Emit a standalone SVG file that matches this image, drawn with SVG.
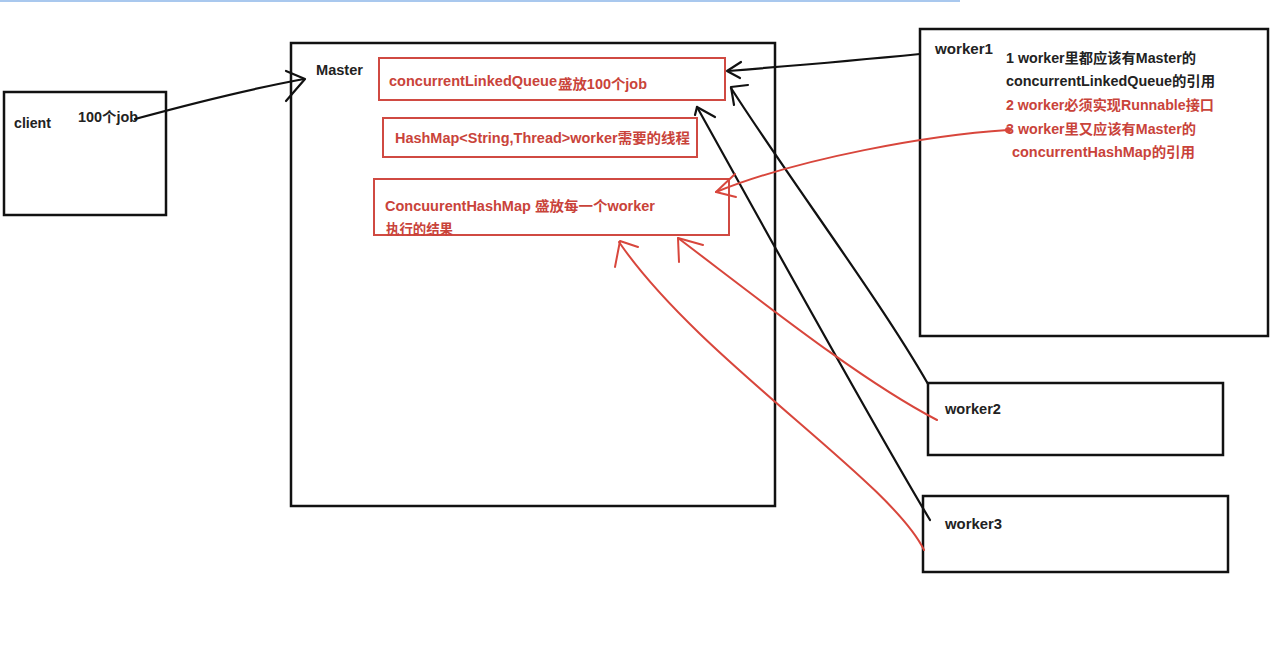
<svg xmlns="http://www.w3.org/2000/svg" width="1280" height="658" viewBox="0 0 1280 658">
<style>
text{font-family:"Liberation Sans","Noto Sans CJK SC",sans-serif;font-weight:bold;font-size:14px}
.k{fill:#222}
.r{fill:#c9433a}
.box{fill:none;stroke:#111;stroke-width:2.5}
.rbox{fill:none;stroke:#d04a42;stroke-width:2}
.bl{fill:none;stroke:#111;stroke-width:2.2;stroke-linecap:round;stroke-linejoin:round}
.rl{fill:none;stroke:#d8463c;stroke-width:2;stroke-linecap:round;stroke-linejoin:round}
</style>
<rect width="1280" height="658" fill="#fff"/>
<line x1="0" y1="1" x2="960" y2="1" stroke="#a9c8ee" stroke-width="2"/>
<g id="client">
<rect class="box" x="4" y="92" width="162" height="123"/>
<text class="k" x="14" y="128" textLength="37" lengthAdjust="spacingAndGlyphs">client</text>
<text class="k" x="78" y="122" textLength="60" lengthAdjust="spacingAndGlyphs">100个job</text>
</g>
<g id="master">
<rect class="box" x="291" y="43" width="484" height="463"/>
<text class="k" x="316" y="75" textLength="47" lengthAdjust="spacingAndGlyphs">Master</text>
</g>
<g id="queue">
<rect class="rbox" x="379" y="58" width="346" height="42"/>
<text class="r" x="389" y="86" textLength="168" lengthAdjust="spacingAndGlyphs">concurrentLinkedQueue</text>
<text class="r" x="558" y="89" font-size="13" textLength="89" lengthAdjust="spacingAndGlyphs">盛放100个job</text>
</g>
<g id="hashmap">
<rect class="rbox" x="383" y="118" width="314" height="39"/>
<text class="r" x="395" y="143" textLength="295" lengthAdjust="spacingAndGlyphs">HashMap&lt;String,Thread&gt;worker需要的线程</text>
</g>
<g id="chm">
<rect class="rbox" x="374" y="179" width="355" height="56"/>
<text class="r" x="385" y="211" textLength="270" lengthAdjust="spacingAndGlyphs">ConcuurentHashMap 盛放每一个worker</text>
<text class="r" x="386" y="234" textLength="67" lengthAdjust="spacingAndGlyphs">执行的结果</text>
</g>
<g id="worker1">
<rect class="box" x="920" y="29" width="348" height="307"/>
<text class="k" x="935" y="54" textLength="58" lengthAdjust="spacingAndGlyphs">worker1</text>
<text class="k" x="1006" y="63" textLength="190" lengthAdjust="spacingAndGlyphs">1 worker里都应该有Master的</text>
<text class="k" x="1006" y="86" textLength="209" lengthAdjust="spacingAndGlyphs">concurrentLinkedQueue的引用</text>
<text class="r" x="1006" y="110" textLength="208" lengthAdjust="spacingAndGlyphs">2 worker必须实现Runnable接口</text>
<text class="r" x="1006" y="134" textLength="190" lengthAdjust="spacingAndGlyphs">3 worker里又应该有Master的</text>
<text class="r" x="1012" y="157" textLength="183" lengthAdjust="spacingAndGlyphs">concurrentHashMap的引用</text>
</g>
<g id="worker2">
<rect class="box" x="928" y="383" width="295" height="72"/>
<text class="k" x="945" y="414" textLength="56" lengthAdjust="spacingAndGlyphs">worker2</text>
</g>
<g id="worker3">
<rect class="box" x="923" y="496" width="305" height="76"/>
<text class="k" x="945" y="529" textLength="57" lengthAdjust="spacingAndGlyphs">worker3</text>
</g>
<g id="connectors">
<path class="bl" stroke-width="3" d="M135,119 C190,104 250,89 304,79"/>
<path class="bl" stroke-width="3" d="M286,71 L305,79 L286,101"/>
<path class="bl" d="M920,54 C860,60 790,66 728,71"/>
<path class="bl" d="M741,62 L727,71 L740,78"/>
<path class="bl" d="M928,384 C880,300 790,180 731,88"/>
<path class="bl" d="M748,85 L731,87 L734,105"/>
<path class="bl" d="M930,520 C870,420 760,220 697,107"/>
<path class="bl" d="M715,117 L697,107 L695,115"/>
<path class="rl" d="M1008,130 C930,135 800,158 716,192"/>
<circle cx="1008" cy="130" r="3" fill="#d8463c"/>
<path class="rl" d="M735,174 L716,192 L736,197"/>
<path class="rl" d="M937,420 C860,380 760,300 678,238"/>
<path class="rl" d="M703,245 L678,238 L679,262"/>
<path class="rl" d="M924,550 C890,480 700,360 619,242"/>
<path class="rl" d="M638,247 L620,241 L615,267"/>
</g>
</svg>
